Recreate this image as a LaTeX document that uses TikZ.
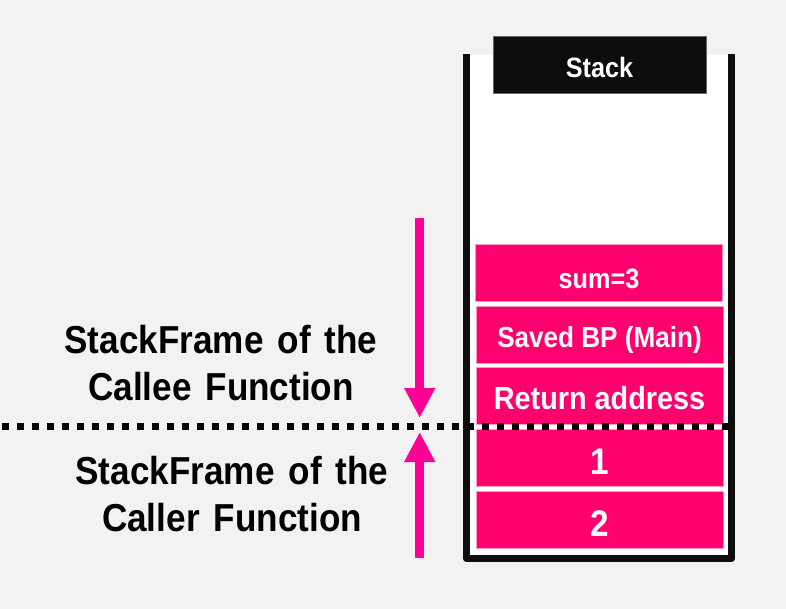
\documentclass[tikz,border=0pt]{standalone}
\usepackage{fontspec}
\setmainfont{Liberation Sans}
\newfontfamily\condfont[FakeStretch=0.9]{Liberation Sans}
\usetikzlibrary{arrows.meta}
\newcommand\mywidesp{\spaceskip=0.36em plus 0.1em\relax}
\newcommand\framefont{\condfont\bfseries\fontsize{39}{47}\selectfont\mywidesp}
\definecolor{bgc}{HTML}{F2F2F2}
\definecolor{wallc}{HTML}{0D0D0D}
\definecolor{cellc}{HTML}{FF006E}
\definecolor{arrc}{HTML}{FF0096}
\tikzset{
  wall/.style={line width=7.5pt, draw=wallc, line join=round, line cap=butt},
  cell/.style={draw=white!60!cellc, line width=0.6pt, fill=cellc, minimum width=247pt,
    minimum height=57pt, inner sep=0pt, text=white,
    font=\condfont\bfseries\fontsize{32}{36}\selectfont, text height=28.9pt, text depth=0pt},
  stacklabel/.style={fill=wallc, draw=black!60, line width=0.8pt, minimum width=213pt,
    minimum height=57pt, inner sep=0pt, text=white,
    font=\condfont\bfseries\fontsize{28}{32}\selectfont, text height=27pt, text depth=0pt},
  frametext/.style={align=center, inner sep=0pt, text=black, font=\framefont},
  pinkarrow/.style={draw=arrc, line width=9pt, -{Triangle[width=29pt,length=30pt]}},
  divider/.style={draw=black, line width=7.5pt, dash pattern=on 7.5pt off 7.5pt, dash phase=-1.7pt}
}
\begin{document}
\begin{tikzpicture}[x=1pt, y=-1pt]
\useasboundingbox (0,0) rectangle (786,609);
\fill[bgc] (0,0) rectangle (786,609);
% stack container
\fill[white] (470,55) rectangle (728,555);
\draw[wall] (466.5,54) -- (466.5,558.5) -- (731.5,558.5) -- (731.5,54);
\node[stacklabel] (stack) at (599.5,64.5) {Stack};
% cells
\node[cell, font=\condfont\bfseries\fontsize{28}{30}\selectfont, text height=32pt] (sum) at (599,272.5) {sum=3};
\node[cell, font=\condfont\bfseries\fontsize{29}{34}\selectfont, text height=26pt] (bp) at (599.5,334.5) {Saved BP (Main)};
\node[cell] (ret) at (599.5,395.5) {Return address};
\node[cell, font=\condfont\bfseries\fontsize{37}{40}\selectfont, text height=33.5pt] (one) at (599.5,458) {1};
\node[cell, font=\condfont\bfseries\fontsize{37}{40}\selectfont, text height=33.5pt] (two) at (599.5,519.5) {2};
% divider
\coordinate (dl) at (0,426.7);
\coordinate (dr) at (736,426.7);
\draw[divider] (dl) -- (dr);
% arrows
\coordinate (dtop) at (419.7,218);
\coordinate (dtip) at (419.7,418);
\coordinate (ubot) at (419.7,558);
\coordinate (utip) at (419.7,432);
\draw[pinkarrow] (dtop) -- (dtip);
\draw[pinkarrow] (ubot) -- (utip);
% labels
\node[frametext] (callee) at (221,363) {StackFrame of the\\Callee Function};
\node[frametext] (caller) at (232,494) {StackFrame of the\\Caller Function};
\end{tikzpicture}
\end{document}
